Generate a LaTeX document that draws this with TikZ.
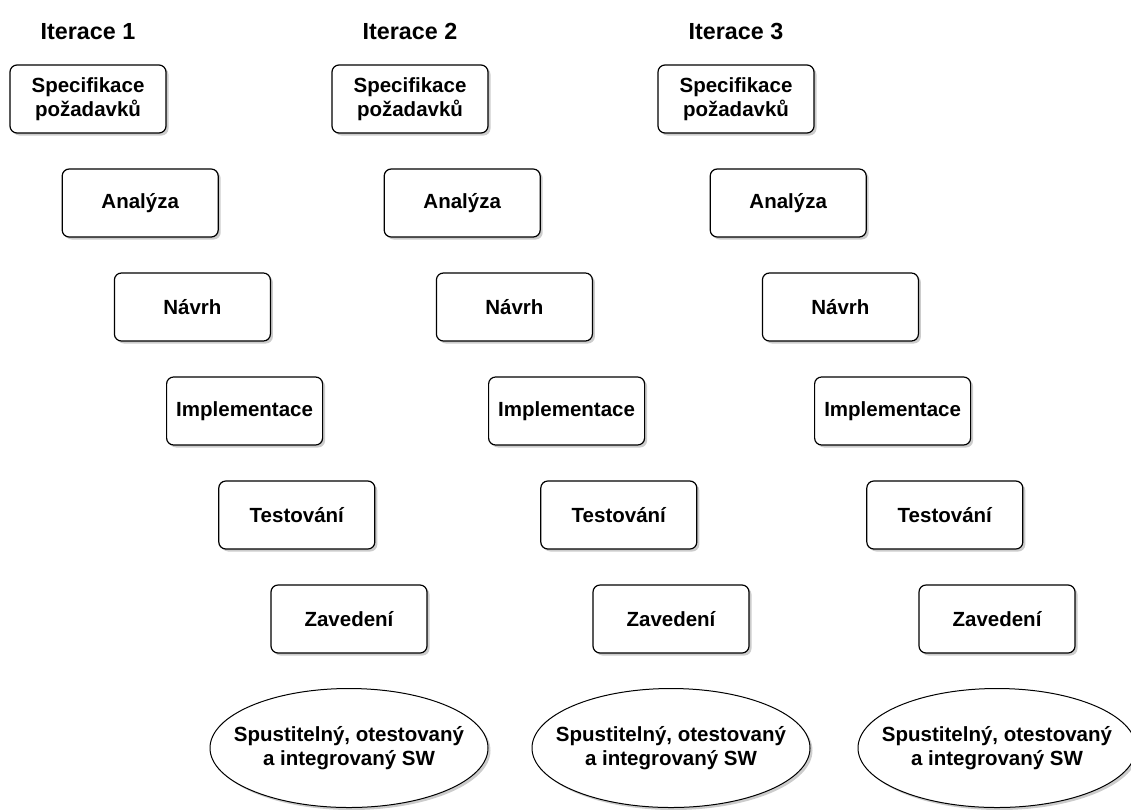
\documentclass[tikz,border=0pt]{standalone}
\usepackage{fontspec}
\setmainfont{Liberation Sans}
\usetikzlibrary{shapes.geometric,shadows}
\tikzset{
 phase/.style={draw, line width=1.2pt, rounded corners=7pt, fill=white, align=center,
  minimum width=156pt, minimum height=68pt, inner sep=2pt,
  font=\bfseries\fontsize{20.5}{23.5}\selectfont,
  drop shadow={shadow xshift=2.5pt, shadow yshift=-2.5pt, fill=black!40, opacity=0.5}},
 result/.style={ellipse, draw, line width=1pt, fill=white, align=center,
  minimum width=278pt, minimum height=119pt, inner xsep=-18pt, inner ysep=20pt,
  font=\bfseries\fontsize{20.5}{24}\selectfont,
  drop shadow={shadow xshift=2.5pt, shadow yshift=-2.5pt, fill=black!40, opacity=0.5}},
 heading/.style={anchor=base, font=\bfseries\fontsize{23.3}{27}\selectfont}
}
\begin{document}
\begin{tikzpicture}[x=1pt,y=-1pt]
 \useasboundingbox (0,0) rectangle (1131,809);
 \foreach \c/\bx in {1/88,2/410,3/736}{
  \node[heading] (iter\c) at (\bx,39) {Iterace \c};
  \foreach \r/\nm/\txt in {0/spec/{Specifikace\\požadavků},1/anal/Analýza,2/navrh/Návrh,
    3/impl/Implementace,4/test/Testování,5/zav/Zavedení}{
   \node[phase] (\nm\c) at ({\bx+52.2*\r},{99+104*\r}) {\txt};
  }
  \node[result] (sw\c) at ({\bx+261},748) {Spustitelný, otestovaný\\a integrovaný SW};
 }
\end{tikzpicture}
\end{document}
